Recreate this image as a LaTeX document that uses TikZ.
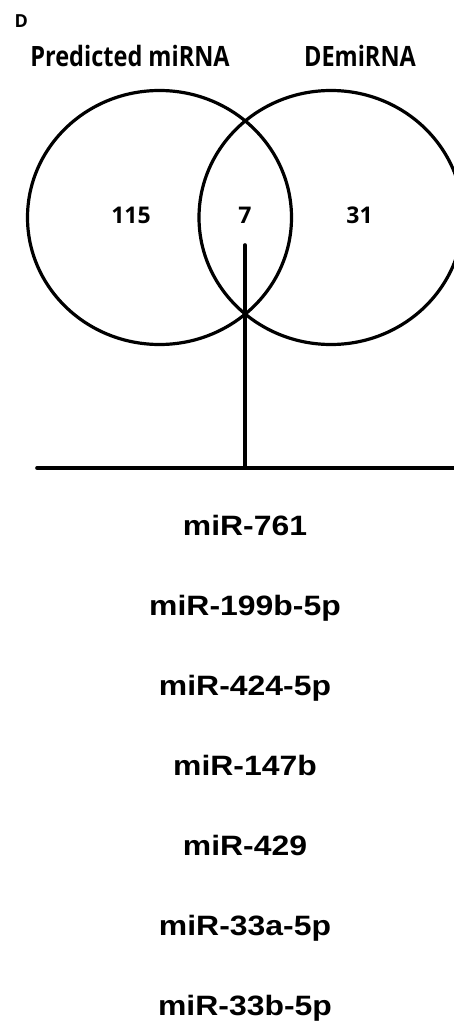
\documentclass[tikz,border=0pt]{standalone}
\usepackage{fontspec}
\newfontfamily\headfont{Open Sans}
\newfontfamily\listfont{Liberation Sans}
\usepackage{tikz}
\usetikzlibrary{shapes.geometric, positioning}
\newcommand{\narrow}[1]{\scalebox{0.84}[1]{#1}}
\newcommand{\wide}[1]{\scalebox{1.14}[1]{#1}}

\begin{document}
\begin{tikzpicture}[
  x=1pt, y=-1pt,
  line width=3.2pt, line cap=round,
  venn/.style={
    draw, ellipse, inner sep=0pt,
    minimum width=264pt, minimum height=254pt
  },
  bar/.style={line width=3.6pt},
  head/.style={font=\headfont\bfseries\fontsize{28}{30}\selectfont, anchor=base, inner sep=0pt},
  count/.style={font=\headfont\bfseries\fontsize{23}{26}\selectfont, anchor=base, inner sep=0pt},
  mirna/.style={font=\listfont\bfseries\fontsize{28}{30}\selectfont, anchor=base, inner sep=0pt}
]
\useasboundingbox (0,0) rectangle (453,1024);
\node[font=\headfont\bfseries\fontsize{18}{20}\selectfont, anchor=base west, inner sep=0pt] (panel) at (13,28) {D};
\node[head] (hl) at (130,66.7) {\narrow{Predicted miRNA}};
\node[head] (hr) at (360,66.7) {\narrow{DEmiRNA}};
\node[venn] (pred) at (159.5,217.5) {};
\node[venn] (dem) at (331,217.5) {};
\node[count] (nl) at (131,223) {115};
\node[count] (nc) at (245,223) {7};
\node[count] (nr) at (359.5,223) {31};
\coordinate (stem) at (245,245);
\coordinate (joint) at (245,468);
\coordinate (barl) at (37,468);
\coordinate (barr) at (470,468);
\draw[bar] (stem) -- (joint);
\draw[bar] (barl) -- (barr);
\foreach \name [count=\i] in {miR-761, miR-199b-5p, miR-424-5p, miR-147b, miR-429, miR-33a-5p, miR-33b-5p}
  \node[mirna] (m\i) at (245,455+80*\i) {\wide{\name}};
\end{tikzpicture}
\end{document}
